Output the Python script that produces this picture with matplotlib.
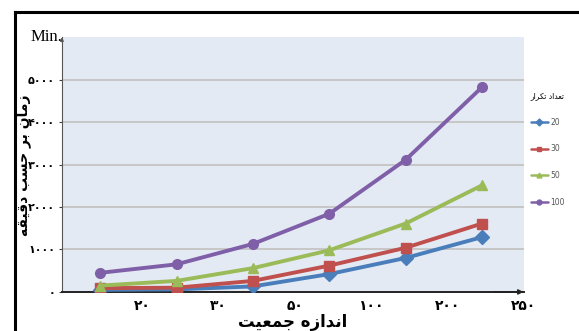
import matplotlib
matplotlib.use('Agg')
import matplotlib.pyplot as plt

# run-time (minutes) per population size, one series per iteration count
pop_sizes = ['۲۰', '۳۰', '۵۰', '۱۰۰', '۲۰۰', '۲۵۰']
iter_labels = ['20', '30', '50', '100']
t_20 = [50, 60, 130, 420, 800, 1290]
t_30 = [90, 100, 260, 620, 1040, 1610]
t_50 = [150, 260, 560, 980, 1610, 2510]
t_100 = [450, 650, 1130, 1840, 3110, 4820]
y_ticks = [0, 1000, 2000, 3000, 4000, 5000]
y_tick_labels = ['۰', '۱۰۰۰', '۲۰۰۰', '۳۰۰۰', '۴۰۰۰', '۵۰۰۰']

# Persian labels, pre-shaped in visual order (matplotlib has no bidi shaping)
x_title = '\ufe96\ufef4\ufecc\ufee4\ufe9f \ufee9\ufeaf\ufe8d\ufeaa\ufee7\ufe8d'
y_title = '\ufeea\ufed8\ufef4\ufed7\ufea9 \ufe90\ufeb4\ufea3 \ufeae\ufe91 \ufee5\ufe8e\ufee3\ufeaf'
legend_title = '\ufead\ufe8d\ufeae\ufedc\ufe97 \ufea9\ufe8d\ufeaa\ufecc\ufe97'

series = [t_20, t_30, t_50, t_100]
colors = ['#4a7ebb', '#c0504d', '#9bbb59', '#7f60a8']
markers = ['D', 's', '^', 'o']

fig = plt.figure(figsize=(5.79, 3.31), dpi=100)
ax = fig.add_axes([0.107, 0.118, 0.798, 0.770])
ax.set_facecolor('#e4eaf4')

xs = range(len(pop_sizes))
for vals, c, m, lab in zip(series, colors, markers, iter_labels):
    ax.plot(xs, vals, color=c, lw=2.8, marker=m, markersize=7,
            markeredgecolor=c, label=lab, solid_capstyle='round', zorder=3)

ax.set_xlim(-0.5, 5.5)
ax.set_ylim(0, 6000)
ax.set_yticks(y_ticks)
ax.set_yticklabels(y_tick_labels, fontsize=8, fontweight='bold', family='DejaVu Sans')
ax.set_xticks([i + 0.55 for i in xs])
ax.set_xticklabels(pop_sizes, fontsize=10, fontweight='bold', family='DejaVu Sans')
ax.tick_params(axis='x', length=0, pad=5)
ax.tick_params(axis='y', length=2, pad=3, color='#444444')
ax.grid(axis='y', color='#c4c4c4', lw=1.3, zorder=0)
ax.set_axisbelow(True)

for s in ['top', 'right']:
    ax.spines[s].set_visible(False)
ax.spines['left'].set_color('#555555')
ax.spines['bottom'].set_color('#222222')
ax.spines['bottom'].set_linewidth(1.4)

# small arrowheads on both axes
ax.annotate('', xy=(1.005, 0), xycoords='axes fraction', xytext=(0.93, 0),
            arrowprops=dict(arrowstyle='-|>', color='#222222', lw=1.2, mutation_scale=7))
ax.annotate('', xy=(0, 1.01), xycoords='axes fraction', xytext=(0, 0.97),
            arrowprops=dict(arrowstyle='-|>', color='#555555', lw=0.8, mutation_scale=5))

ax.set_xlabel(x_title, fontsize=12, fontweight='bold', family='DejaVu Sans', labelpad=0)
fig.text(0.040, 0.50, y_title, rotation=90, ha='center', va='center',
         fontsize=10, fontweight='bold', family='DejaVu Sans')
fig.text(0.052, 0.888, 'Min.', fontsize=12, family='Liberation Serif', va='center')

leg = fig.legend(loc='upper left', bbox_to_anchor=(0.905, 0.745), frameon=False,
                 fontsize=5.5, handlelength=2.2, labelspacing=2.3, handletextpad=0.3,
                 markerscale=0.5, title=legend_title,
                 title_fontproperties={'family': 'DejaVu Sans', 'size': 5.5})
for t in leg.get_texts():
    t.set_color('#555555')
for h in leg.legend_handles:
    h.set_linewidth(1.8)

# page frame around the chart
fig.add_artist(plt.Line2D([0.026, 1.0], [0.964, 0.964], color='black', lw=2.2))
fig.add_artist(plt.Line2D([0.026, 0.026], [0.0, 0.964], color='black', lw=2.2))

fig.savefig('out.png', dpi=100)
